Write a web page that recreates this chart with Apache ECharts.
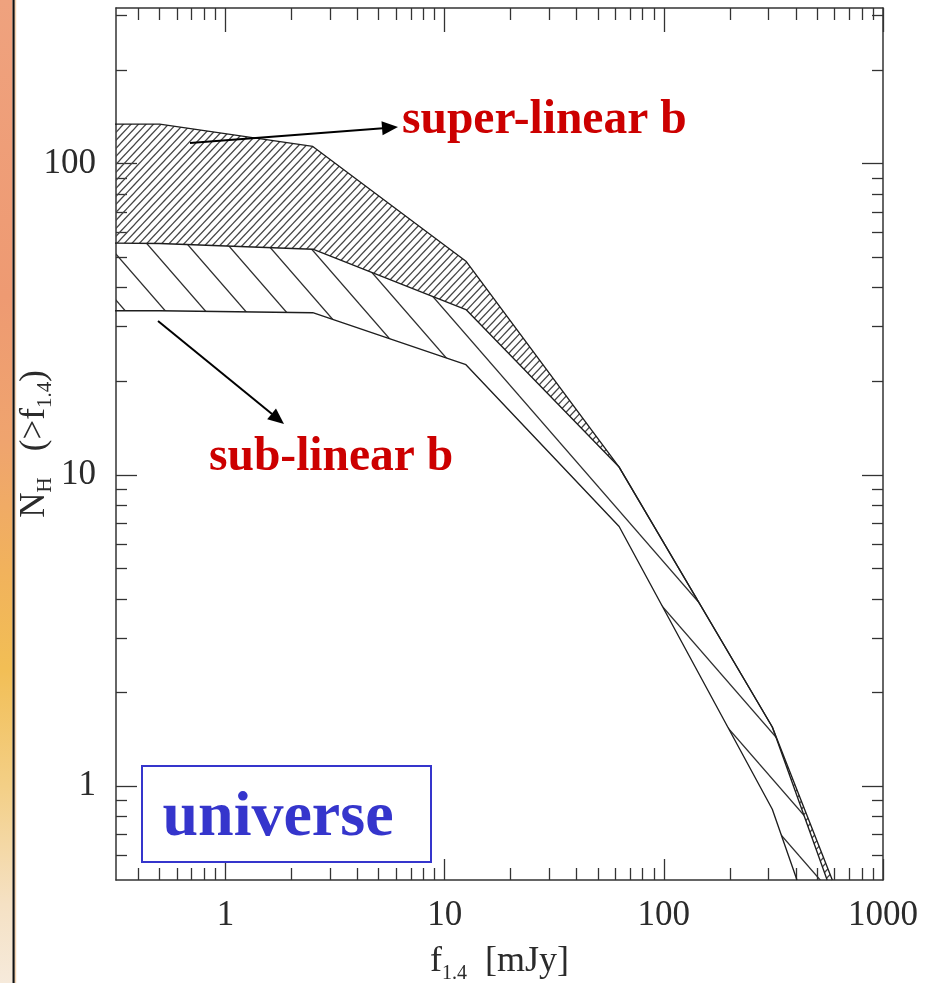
<!DOCTYPE html>
<html>
<head>
<meta charset="utf-8">
<script src="https://cdn.jsdelivr.net/npm/echarts@6/dist/echarts.min.js"></script>
<style>
  html, body { margin: 0; padding: 0; background: #ffffff; }
  #chart { width: 931px; height: 983px; }
</style>
</head>
<body>
<div id="chart"></div>
<script>
// Cumulative counts N_H(>f_1.4) versus 1.4 GHz flux density [mJy].
// Each curve is a list of [flux, count] pairs.
const superUpper = [[0.3, 134], [0.5, 134], [2.5, 113.6], [12.5, 48.6], [62.5, 10.6], [312.5, 1.55], [587, 0.5]];
const superLower = [[0.3, 55.6], [0.5, 55.4], [2.5, 53.1], [12.5, 34.0], [62.5, 10.6], [312.5, 1.55], [556, 0.5]];
const subLower   = [[0.3, 33.7], [0.5, 33.7], [2.5, 33.2], [12.5, 22.6], [62.5, 6.83], [312.5, 0.844], [405, 0.5]];

// Axis ticks
const xMajorTicks = [1, 10, 100, 1000];
const xMinorTicks = [0.4, 0.5, 0.6, 0.7, 0.8, 0.9, 2, 3, 4, 5, 6, 7, 8, 9,
                     20, 30, 40, 50, 60, 70, 80, 90, 200, 300, 400, 500, 600, 700, 800, 900];
const yMajorTicks = [1, 10, 100];
const yMinorTicks = [0.6, 0.7, 0.8, 0.9, 2, 3, 4, 5, 6, 7, 8, 9,
                     20, 30, 40, 50, 60, 70, 80, 90, 200, 300];

const xMin = Math.pow(10, -0.5), xMax = 1000;
const yMin = 0.5, yMax = Math.pow(10, 2.5);

const SERIF = "'Liberation Serif', 'DejaVu Serif', serif";
const INK = '#2b2b2b';

// Hatch fills drawn into small repeating tiles
function hatch(w, h, segs, color, lw) {
  const c = document.createElement('canvas');
  c.width = w; c.height = h;
  const ctx = c.getContext('2d');
  ctx.strokeStyle = color;
  ctx.lineWidth = lw;
  segs.forEach(s => {
    ctx.beginPath();
    ctx.moveTo(s[0], s[1]);
    ctx.lineTo(s[2], s[3]);
    ctx.stroke();
  });
  return { image: c, repeat: 'repeat' };
}
// fine "/" hatch
const fineSegs = [];
for (let c = -7.5; c <= 37.5; c += 7.5) {
  fineSegs.push([c + 2 * 0.9375, -2, c - 18 * 0.9375, 18]);
}
const fineHatch = hatch(15, 16, fineSegs, '#444444', 1.2);
// wide "\" hatch
const wideSegs = [];
for (let c = -25; c <= 55; c += 40) {
  wideSegs.push([c - 10 / 1.15, -10, c + 56 / 1.15, 56]);
}
const wideHatch = hatch(40, 46, wideSegs, '#2e2e2e', 1.3);

function band(upper, lower, fill) {
  return {
    type: 'custom',
    coordinateSystem: 'cartesian2d',
    xAxisIndex: 0, yAxisIndex: 0,
    silent: true,
    z: 1,
    data: [[1, 1]],
    renderItem: function (params, api) {
      const pts = upper.map(p => api.coord(p))
        .concat(lower.slice().reverse().map(p => api.coord(p)));
      const cs = params.coordSys;
      return {
        type: 'polygon',
        shape: { points: pts },
        style: { fill: fill, stroke: null },
        clipPath: { type: 'rect', shape: { x: cs.x, y: cs.y, width: cs.width, height: cs.height } }
      };
    }
  };
}

function curve(data) {
  return {
    type: 'line',
    xAxisIndex: 0, yAxisIndex: 0,
    data: data,
    symbol: 'none',
    silent: true,
    clip: true,
    z: 3,
    lineStyle: { color: '#1e1e1e', width: 1.35 }
  };
}

const tickLine = { color: '#333', width: 1.3 };
const frameLine = { show: true, onZero: false, lineStyle: { color: '#333', width: 1.5 } };
const noLine = { show: false, onZero: false };

function logAxis(extra) {
  return Object.assign({
    type: 'log', logBase: 10,
    splitLine: { show: false },
    axisLabel: { show: false }
  }, extra);
}

const gridRect = { left: 116, right: 48, top: 8, bottom: 103, containLabel: false, outerBoundsMode: 'none' };

const option = {
  animation: false,
  backgroundColor: '#ffffff',
  textStyle: { fontFamily: SERIF },
  grid: [Object.assign({}, gridRect), Object.assign({}, gridRect)],
  xAxis: [
    logAxis({
      gridIndex: 0, position: 'bottom', min: xMin, max: xMax,
      axisLine: frameLine,
      axisTick: { inside: true, length: 21, customValues: xMajorTicks, lineStyle: tickLine },
      axisLabel: {
        show: true, customValues: xMajorTicks, margin: 18,
        formatter: v => String(v),
        fontFamily: SERIF, fontSize: 35, color: INK
      },
      name: '{m|f}{s|1.4}{m|  [mJy]}',
      nameLocation: 'middle', nameGap: 60,
      nameTextStyle: {
        rich: {
          m: { fontFamily: SERIF, fontSize: 36, color: INK, lineHeight: 44 },
          s: { fontFamily: SERIF, fontSize: 20, color: INK, lineHeight: 20, verticalAlign: 'bottom' }
        }
      }
    }),
    logAxis({
      gridIndex: 0, position: 'top', min: xMin, max: xMax,
      axisLine: frameLine,
      axisTick: { inside: true, length: 24, customValues: xMajorTicks, lineStyle: tickLine }
    }),
    logAxis({
      gridIndex: 1, position: 'bottom', min: xMin, max: xMax,
      axisLine: noLine,
      axisTick: { inside: true, length: 12, customValues: xMinorTicks, lineStyle: tickLine }
    }),
    logAxis({
      gridIndex: 1, position: 'top', min: xMin, max: xMax,
      axisLine: noLine,
      axisTick: { inside: true, length: 12, customValues: xMinorTicks, lineStyle: tickLine }
    })
  ],
  yAxis: [
    logAxis({
      gridIndex: 0, position: 'left', min: yMin, max: yMax,
      axisLine: frameLine,
      axisTick: { inside: true, length: 21, customValues: yMajorTicks, lineStyle: tickLine },
      axisLabel: {
        show: true, customValues: yMajorTicks, margin: 20,
        formatter: v => String(v),
        padding: [6, 0, 0, 0],
        fontFamily: SERIF, fontSize: 35, color: INK
      },
      name: '{m|N}{s|H}{m|   (>f}{s|1.4}{m|)}',
      nameLocation: 'middle', nameGap: 60, nameRotate: 90,
      nameMoveOverlap: false,
      nameTextStyle: {
        rich: {
          m: { fontFamily: SERIF, fontSize: 35, color: INK, lineHeight: 42 },
          s: { fontFamily: SERIF, fontSize: 21, color: INK, lineHeight: 21, verticalAlign: 'bottom' }
        }
      }
    }),
    logAxis({
      gridIndex: 0, position: 'right', min: yMin, max: yMax,
      axisLine: frameLine,
      axisTick: { inside: true, length: 21, customValues: yMajorTicks, lineStyle: tickLine }
    }),
    logAxis({
      gridIndex: 1, position: 'left', min: yMin, max: yMax,
      axisLine: noLine,
      axisTick: { inside: true, length: 11, customValues: yMinorTicks, lineStyle: tickLine }
    }),
    logAxis({
      gridIndex: 1, position: 'right', min: yMin, max: yMax,
      axisLine: noLine,
      axisTick: { inside: true, length: 11, customValues: yMinorTicks, lineStyle: tickLine }
    })
  ],
  series: [
    band(superUpper, superLower, fineHatch),
    band(superLower, subLower, wideHatch),
    curve(superUpper),
    curve(superLower),
    curve(subLower)
  ],
  graphic: [
    // slide edge strip
    {
      type: 'rect', silent: true, z: -10,
      shape: { x: 0, y: 0, width: 12.5, height: 983 },
      style: {
        fill: {
          type: 'linear', x: 0, y: 0, x2: 0, y2: 1,
          colorStops: [
            { offset: 0, color: '#EFA27E' },
            { offset: 0.3, color: '#EE9A72' },
            { offset: 0.45, color: '#EFA46E' },
            { offset: 0.58, color: '#F1B25C' },
            { offset: 0.68, color: '#F2BE55' },
            { offset: 0.8, color: '#F3CF86' },
            { offset: 0.92, color: '#F5E1C4' },
            { offset: 1, color: '#F6EADB' }
          ]
        }
      }
    },
    { type: 'rect', silent: true, z: -9, shape: { x: 12.5, y: 0, width: 2.3, height: 983 }, style: { fill: '#111' } },
    { type: 'rect', silent: true, z: -9, shape: { x: 14.8, y: 0, width: 1.4, height: 983 }, style: { fill: '#F4D2B0' } },

    // super-linear annotation
    { type: 'line', silent: true, z: 20, shape: { x1: 190, y1: 143, x2: 383, y2: 128.2 }, style: { stroke: '#000', lineWidth: 2 } },
    { type: 'polygon', silent: true, z: 20, shape: { points: [[398, 127], [382.6, 135.2], [381.5, 121.3]] }, style: { fill: '#000' } },
    {
      type: 'text', silent: true, z: 20, x: 402, y: 121,
      style: { text: 'super-linear b', fill: '#CC0000', font: "bold 47.5px 'Liberation Serif', serif", verticalAlign: 'middle', align: 'left' }
    },

    // sub-linear annotation
    { type: 'line', silent: true, z: 20, shape: { x1: 158, y1: 321, x2: 272, y2: 414 }, style: { stroke: '#000', lineWidth: 2 } },
    { type: 'polygon', silent: true, z: 20, shape: { points: [[284, 424], [267.2, 419.3], [276.0, 408.5]] }, style: { fill: '#000' } },
    {
      type: 'text', silent: true, z: 20, x: 209, y: 458,
      style: { text: 'sub-linear b', fill: '#CC0000', font: "bold 47.5px 'Liberation Serif', serif", verticalAlign: 'middle', align: 'left' }
    },

    // sample label
    {
      type: 'rect', silent: true, z: 20,
      shape: { x: 142, y: 766, width: 289, height: 96 },
      style: { fill: '#ffffff', stroke: '#3535CC', lineWidth: 2 }
    },
    {
      type: 'text', silent: true, z: 21, x: 278, y: 818,
      style: { text: 'universe', fill: '#3535CC', font: "bold 64px 'Liberation Serif', serif", verticalAlign: 'middle', align: 'center' }
    }
  ]
};

const chart = echarts.init(document.getElementById('chart'), null, { renderer: 'canvas' });
chart.setOption(option);
</script>
</body>
</html>
